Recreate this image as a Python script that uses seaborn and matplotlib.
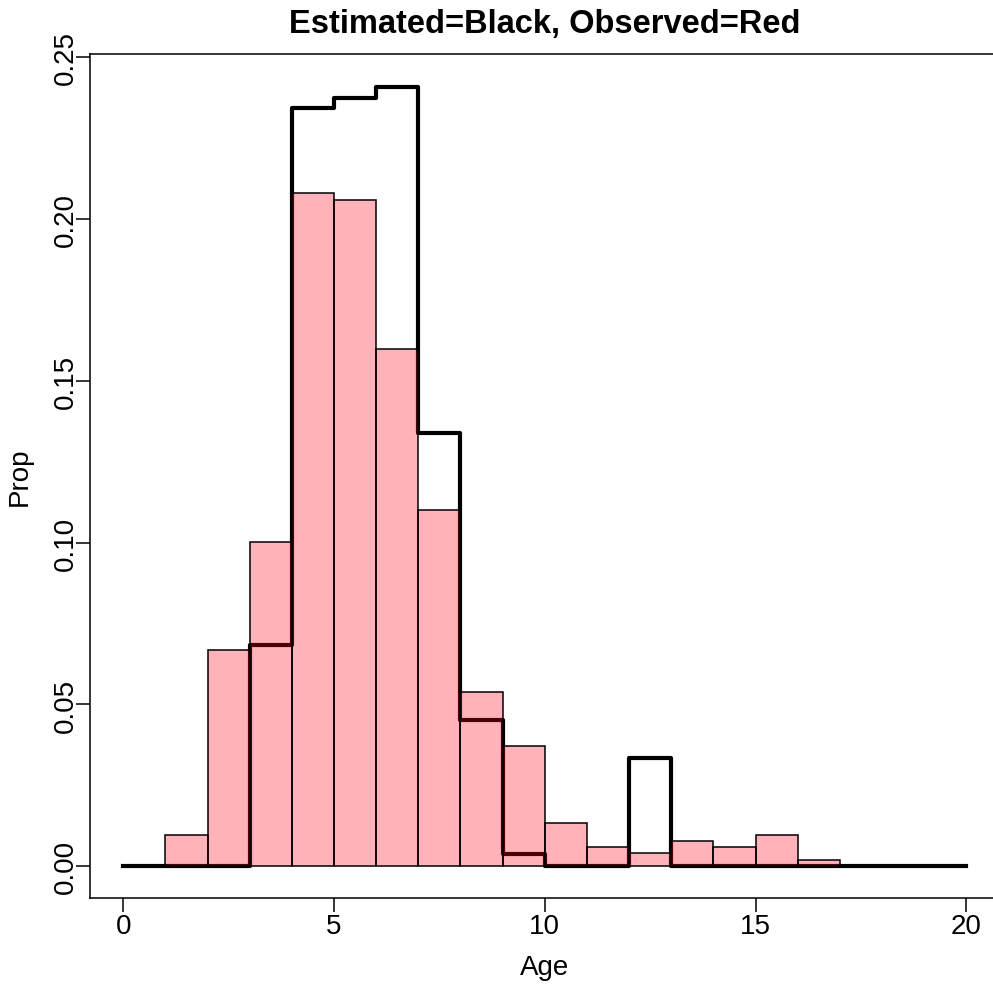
import matplotlib
matplotlib.use("Agg")
import matplotlib.pyplot as plt
import seaborn as sns
import numpy as np
import pandas as pd

plt.rcParams['font.family'] = ['Liberation Sans', 'DejaVu Sans']

# Estimated proportions (black step line), ages 0..19
est_age = list(range(0, 20))
est_prop = [0.0, 0.0, 0.0, 0.0684, 0.2345, 0.2375, 0.2410, 0.1338, 0.0453, 0.0037,
            0.0, 0.0, 0.0336, 0.0, 0.0, 0.0, 0.0, 0.0, 0.0, 0.0]

# Observed proportions (red bars), ages 1..16
obs_age = list(range(1, 17))
obs_prop = [0.0096, 0.0669, 0.1002, 0.2082, 0.2060, 0.1600, 0.1100, 0.0540, 0.0373,
            0.0133, 0.0059, 0.0040, 0.0077, 0.0059, 0.0096, 0.0018]

x_ticks = [0, 5, 10, 15, 20]
y_ticks = [0.00, 0.05, 0.10, 0.15, 0.20, 0.25]

W, H = 993, 987
fig = plt.figure(figsize=(W / 100, H / 100), dpi=100)
left, right, top, bottom = 89.5, 1000.0, 55.0, 898.5
ax = fig.add_axes([left / W, (H - bottom) / H, (right - left) / W, (bottom - top) / H])

# Step line for estimated
est_df = pd.DataFrame({"Age": est_age + [20], "Prop": est_prop + [est_prop[-1]]})
sns.lineplot(data=est_df, x="Age", y="Prop", drawstyle="steps-post", color="black",
             linewidth=3.0, estimator=None, ax=ax, zorder=2)

# Observed bars
obs_df = pd.DataFrame({"Age": obs_age, "Prop": obs_prop})
sns.histplot(data=obs_df, x="Age", weights="Prop", bins=list(range(1, 18)),
             facecolor=(1.0, 0.0, 0.1, 0.30), edgecolor="black", linewidth=1.1,
             ax=ax, zorder=3)

ax.set_xlim(-0.8, 20.8)
ax.set_ylim(-0.00966, 0.25107)
ax.set_xticks(x_ticks)
ax.set_xticklabels([str(t) for t in x_ticks])
ax.set_yticks(y_ticks)
ax.set_yticklabels([f"{t:.2f}" for t in y_ticks], rotation=90, va="center")

for s in ax.spines.values():
    s.set_linewidth(1.1)
    s.set_color("black")
ax.tick_params(axis="both", direction="out", length=10, width=1.1, labelsize=20,
               colors="black")
ax.tick_params(axis="x", pad=1)
ax.tick_params(axis="y", pad=-2)
ax.set_xlabel("Age", fontsize=20, labelpad=11)
ax.set_ylabel("Prop", fontsize=20, labelpad=14)
ax.set_title("Estimated=Black, Observed=Red", fontsize=23.5, fontweight="bold", pad=16)
ax.grid(False)

fig.savefig("out.png", dpi=100)
